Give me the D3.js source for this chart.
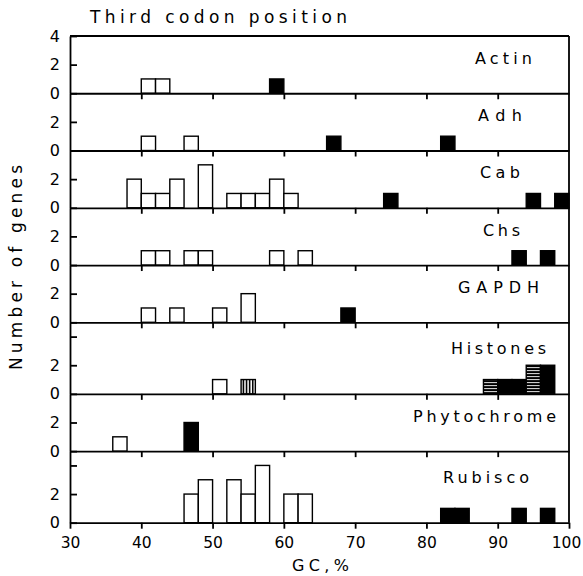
<!DOCTYPE html>
<html><head><meta charset="utf-8">
<script src="https://cdn.jsdelivr.net/npm/d3@7"></script>
<style>body{margin:0;background:#fff}</style>
</head><body><svg id="c" width="583" height="576"></svg>
<script>
// ---------------- data ----------------
const genes = ["Actin","Adh","Cab","Chs","GAPDH","Histones","Phytochrome","Rubisco"];
const panelMax = [4,4,4,4,4,5,4,5];
// [bin start GC%, number of genes, bar kind]
const actin = [[40,1,"open"],[42,1,"open"],[58,1,"solid"]];
const adh = [[40,1,"open"],[46,1,"open"],[66,1,"solid"],[82,1,"solid"]];
const cab = [[38,2,"open"],[40,1,"open"],[42,1,"open"],[44,2,"open"],[48,3,"open"],[52,1,"open"],[54,1,"open"],[56,1,"open"],[58,2,"open"],[60,1,"open"],[74,1,"solid"],[94,1,"solid"],[98,1,"solid"]];
const chs = [[40,1,"open"],[42,1,"open"],[46,1,"open"],[48,1,"open"],[58,1,"open"],[62,1,"open"],[92,1,"solid"],[96,1,"solid"]];
const gapdh = [[40,1,"open"],[44,1,"open"],[50,1,"open"],[54,2,"open"],[68,1,"solid"]];
const histones = [[50,1,"open"],[54,1,"vhatch"],[88,1,"hhatch"],[90,1,"solid"],[92,1,"solid"],[94,2,"hhatch"],[96,2,"solid"]];
const phytochrome = [[36,1,"open"],[46,2,"solid"]];
const rubisco = [[46,2,"open"],[48,3,"open"],[52,3,"open"],[54,2,"open"],[56,4,"open"],[60,2,"open"],[62,2,"open"],[82,1,"solid"],[84,1,"solid"],[92,1,"solid"],[96,1,"solid"]];
const panelBars = [actin, adh, cab, chs, gapdh, histones, phytochrome, rubisco];
const binWidth = 2;
const xTicks = [30,40,50,60,70,80,90,100];
const innerXTicks = [40,50,60,70,80,90];
const title = "Third codon position";
const xLabel = "GC,%";
const yLabel = "Number of genes";

// ---------------- layout ----------------
const L = 70, R = 569, T = 36, B = 522.7;
const FONT = "DejaVu Sans";
const labelStart = [475,478,480,483,458,451,413,443];
const labelLen   = [57,44,40,37,81,95,143,86];

const svg = d3.select("#c");
const defs = svg.append("defs");
const vh = defs.append("pattern").attr("id","vh").attr("patternUnits","userSpaceOnUse")
  .attr("width",3.1).attr("height",4);
vh.append("rect").attr("width",3.1).attr("height",4).attr("fill","#fff");
vh.append("rect").attr("x",0.8).attr("width",1.7).attr("height",4).attr("fill","#000");
const hh = defs.append("pattern").attr("id","hh").attr("patternUnits","userSpaceOnUse")
  .attr("width",4).attr("height",3);
hh.append("rect").attr("width",4).attr("height",3).attr("fill","#000");
hh.append("rect").attr("x",0).attr("y",1.2).attr("width",4).attr("height",0.9).attr("fill","#fff");

const x = d3.scaleLinear().domain([30,100]).range([L,R]);
const total = d3.sum(panelMax);
const stack = d3.scaleLinear().domain([0,total]).range([T,B]);
const cum = panelMax.map((m,i)=>d3.sum(panelMax.slice(0,i)));

const fillOf = k => k==="open" ? "#fff" : k==="solid" ? "#000" : k==="vhatch" ? "url(#vh)" : "url(#hh)";

genes.forEach((g,i)=>{
  const m = panelMax[i];
  const y = d3.scaleLinear().domain([0,m]).range([stack(cum[i]+m), stack(cum[i])]);
  const gp = svg.append("g");
  gp.selectAll("rect").data(panelBars[i]).join("rect")
    .attr("x", d=>x(d[0]))
    .attr("width", d=>x(d[0]+binWidth)-x(d[0]))
    .attr("y", d=>y(d[1]))
    .attr("height", d=>y(0)-y(d[1]))
    .attr("fill", d=>fillOf(d[2]))
    .attr("stroke","#000").attr("stroke-width",1.4);

  // left axis
  const tv = m===5 ? [0,2,4] : (i===0 ? [0,2,4] : [0,2]);
  const la = d3.axisLeft(y).tickValues(tv).tickSizeInner(-7).tickSizeOuter(0).tickPadding(10)
    .tickFormat(v => (v===4 && i!==0) ? "" : String(v));
  const lg = svg.append("g").attr("transform",`translate(${L},0)`).call(la);
  lg.selectAll("path,line").attr("stroke","#000").attr("stroke-width",1.8);
  lg.selectAll("text").attr("font-family",FONT).attr("font-size",16).attr("fill","#000");

  // baseline axis
  const last = i===genes.length-1;
  const ba = d3.axisBottom(x).tickValues(last ? xTicks : innerXTicks)
    .tickSizeInner(6).tickSizeOuter(0).tickPadding(8)
    .tickFormat(last ? d3.format("d") : "");
  const bg = svg.append("g").attr("transform",`translate(0,${y(0)})`).call(ba);
  bg.selectAll("path,line").attr("stroke","#000").attr("stroke-width",1.8);
  bg.selectAll("text").attr("font-family",FONT).attr("font-size",15.5).attr("fill","#000")
    .attr("dx", d => d===100 ? "-3" : "0");

  // panel label
  svg.append("text").attr("x",labelStart[i]).attr("y",y(m)+22+(m-4)*4).attr("dy","0.36em")
    .attr("textLength",labelLen[i]).attr("lengthAdjust","spacing")
    .attr("font-family",FONT).attr("font-size",16).text(g);
});

// frame top and right
svg.append("line").attr("x1",x(30)).attr("x2",x(100)).attr("y1",stack(0)).attr("y2",stack(0))
  .attr("stroke","#000").attr("stroke-width",1.8);
svg.append("line").attr("x1",x(100)).attr("x2",x(100)).attr("y1",stack(0)).attr("y2",stack(total))
  .attr("stroke","#000").attr("stroke-width",1.8);

// titles
svg.append("text").attr("x",90).attr("y",22.5).attr("textLength",257).attr("lengthAdjust","spacing")
  .attr("font-family",FONT).attr("font-size",17).text(title);
svg.append("text").attr("x",292).attr("y",571).attr("textLength",57).attr("lengthAdjust","spacing")
  .attr("font-family",FONT).attr("font-size",16).text(xLabel);
svg.append("text").attr("transform","translate(22,370) rotate(-90)").attr("x",0).attr("y",0)
  .attr("textLength",205).attr("lengthAdjust","spacing")
  .attr("font-family",FONT).attr("font-size",17).text(yLabel);
</script></body></html>
